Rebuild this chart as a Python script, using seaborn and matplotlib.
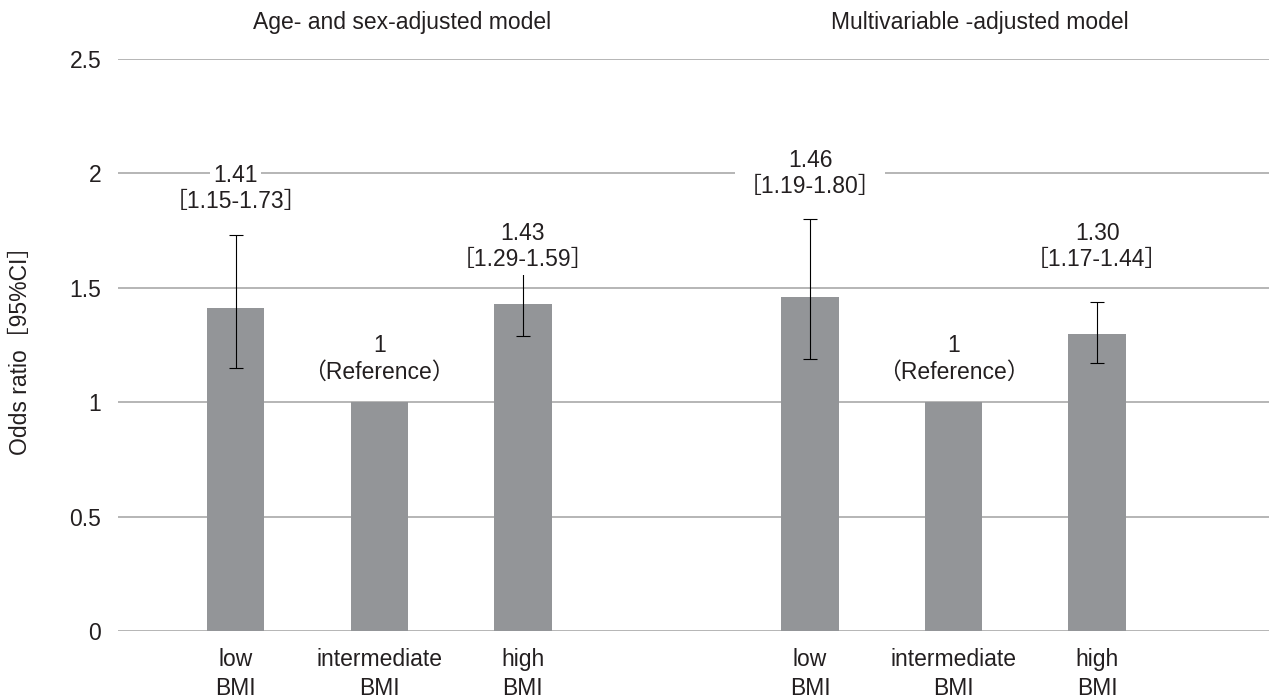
import numpy as np
import pandas as pd
import matplotlib
matplotlib.use('Agg')
import matplotlib.pyplot as plt
import matplotlib.transforms as mtransforms
import seaborn as sns

# --- DATA ---
keys = ['a_low', 'a_mid', 'a_high', 'b_low', 'b_mid', 'b_high']
tick_text = ['low\nBMI', 'intermediate\nBMI', 'high\nBMI',
             'low\nBMI', 'intermediate\nBMI', 'high\nBMI']
odds = [1.41, 1.00, 1.43, 1.46, 1.00, 1.30]
ci_low = [1.15, 1.00, 1.29, 1.19, 1.00, 1.17]
ci_high = [1.73, 1.00, 1.59, 1.80, 1.00, 1.44]
top_line = ['1.41', '1', '1.43', '1.46', '1', '1.30']
bottom_line = ['［1.15-1.73］', '（Reference）', '［1.29-1.59］',
               '［1.19-1.80］', '（Reference）', '［1.17-1.44］']
groups = ['Age- and sex-adjusted model', 'Multivariable -adjusted model']

# --- STYLE ---
sns.set_style('white')
plt.rcParams['font.family'] = ['Liberation Sans', 'Noto Sans CJK JP']
bar_color = '#939598'
grid_color = '#a9a9a9'
text_color = '#231f20'
fs = 16.5
label_y = [1.935, 1.19, 1.68, 2.0, 1.19, 1.68]   # centre of each two-line label
group_x = [1.16, 5.18]

df = pd.DataFrame({'key': keys, 'odds': odds})
order = keys[:3] + ['gap'] + keys[3:]

fig = plt.figure(figsize=(12.72, 6.98), dpi=100)
ax = fig.add_axes([0.0928, 0.096, 0.9052, 0.8195])

sns.barplot(data=df, x='key', y='odds', order=order, color=bar_color,
            width=0.4, errorbar=None, saturation=1, linewidth=0,
            ax=ax, zorder=2)

pos = np.array([order.index(k) for k in keys])
lo = np.array(ci_low)
hi = np.array(ci_high)
val = np.array(odds)
has_ci = hi > lo
ax.errorbar(pos[has_ci], val[has_ci],
            yerr=[val[has_ci] - lo[has_ci], hi[has_ci] - val[has_ci]],
            fmt='none', ecolor='black', elinewidth=0.8, capsize=5,
            capthick=0.8, zorder=3)

# labels above bars, one white box per line so gridlines break behind them
for p, y, t1, t2 in zip(pos, label_y, top_line, bottom_line):
    ax.annotate(t1, (p, y), xytext=(0, 9.5), textcoords='offset points',
                ha='center', va='center', fontsize=fs, color=text_color,
                bbox=dict(facecolor='white', edgecolor='none', pad=2.5),
                zorder=4)
    ax.annotate(t2, (p, y), xytext=(0, -9.5), textcoords='offset points',
                ha='center', va='center', fontsize=fs, color=text_color,
                bbox=dict(facecolor='white', edgecolor='none', pad=2.5),
                zorder=4)

# group titles above the plot
trans = mtransforms.blended_transform_factory(ax.transData, fig.transFigure)
for gx, g in zip(group_x, groups):
    ax.text(gx, 1 - 22 / 698, g, transform=trans, ha='center', va='center',
            fontsize=fs, color=text_color)

ax.set_ylim(0, 2.5)
ax.set_xlim(-0.82, 7.2)
ax.set_yticks([0, 0.5, 1, 1.5, 2, 2.5])
ax.set_yticklabels(['0', '0.5', '1', '1.5', '2', '2.5'])
ax.set_xticks(pos)
ax.set_xticklabels(tick_text, linespacing=1.35)
ax.tick_params(axis='both', length=0, labelsize=fs, colors=text_color)
ax.tick_params(axis='x', pad=12)
ax.tick_params(axis='y', pad=12)
ax.yaxis.grid(True, color=grid_color, linewidth=1.2, zorder=0)
ax.set_axisbelow(True)
for s in ax.spines.values():
    s.set_visible(False)
ax.set_xlabel('')
ax.set_ylabel('Odds ratio［95%CI］', fontsize=fs, color=text_color,
              labelpad=27)

plt.savefig('out.png', dpi=100)
